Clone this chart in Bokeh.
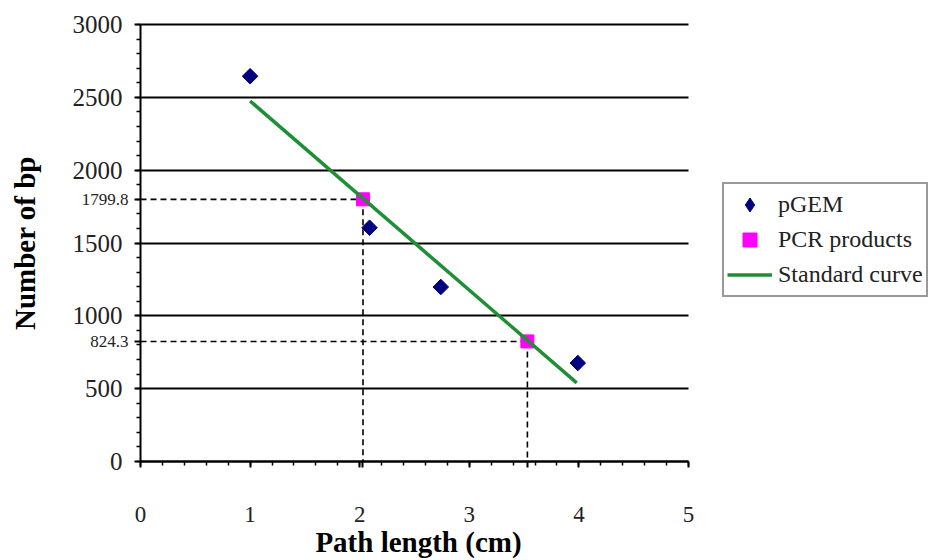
from math import pi
from bokeh.plotting import figure
from bokeh.models import (FixedTicker, Legend, LegendItem, Range1d, LinearAxis, Grid,
                          PrintfTickFormatter, Label)
from bokeh.embed import file_html
from bokeh.resources import INLINE

# ---- data ----
pgem_x = [1.0, 2.09, 2.74, 3.99]
pgem_y = [2645, 1605, 1198, 676]
pcr_x = [2.03, 3.53]
pcr_y = [1799.8, 824.3]
curve_x = [1.0, 3.98]
curve_y = [2475, 540]
x_ticks = [0, 1, 2, 3, 4, 5]
y_ticks = [0, 500, 1000, 1500, 2000, 2500, 3000]
x_minor = [0.2 * i for i in range(26)]
y_minor = list(range(0, 3001, 100))

SERIF = "Liberation Serif"
W, H = 929, 560
# plot area of the reference chart, in pixels
PX_LEFT, PX_RIGHT, PX_TOP, PX_BOTTOM = 140, 688, 24, 461
X0, X1, Y0, Y1 = 0, 5, 0, 3000
xs = (PX_RIGHT - PX_LEFT) / (X1 - X0)
ys = (PX_BOTTOM - PX_TOP) / (Y1 - Y0)

# the frame covers the whole canvas so that legend and labels are not clipped;
# the ranges are extended so that the 0..5 / 0..3000 area sits where the reference has it
p = figure(width=W, height=H,
           x_range=Range1d(X0 - PX_LEFT / xs, X1 + (W - PX_RIGHT) / xs),
           y_range=Range1d(Y0 - (H - PX_BOTTOM) / ys, Y1 + PX_TOP / ys),
           x_axis_location=None, y_axis_location=None,
           output_backend="svg", toolbar_location=None,
           min_border_left=0, min_border_right=0, min_border_top=0, min_border_bottom=0)
p.outline_line_color = None
p.background_fill_color = "white"
p.border_fill_color = "white"
p.center = [c for c in p.center if not isinstance(c, Grid)]

# range used only to keep the legend swatch renderer off the canvas
p.extra_y_ranges = {"key_only": Range1d(-100000, -99999)}

grid = Grid(dimension=1, ticker=FixedTicker(ticks=y_ticks), cross_bounds=(X0, X1),
            grid_line_color="black", grid_line_width=2)
p.add_layout(grid)


def style_axis(ax):
    ax.axis_line_color = "black"
    ax.axis_line_width = 2
    ax.major_tick_line_color = "black"
    ax.major_tick_line_width = 2
    ax.minor_tick_line_color = "black"
    ax.minor_tick_line_width = 1.5
    ax.major_tick_in = 0
    ax.major_tick_out = 6
    ax.minor_tick_in = 0
    ax.minor_tick_out = 4
    ax.major_label_text_font = SERIF
    ax.major_label_text_color = "#222222"


xaxis = LinearAxis(ticker=FixedTicker(ticks=x_ticks, minor_ticks=x_minor),
                   fixed_location=Y0, bounds=(X0, X1))
style_axis(xaxis)
xaxis.major_label_text_font_size = "23px"
xaxis.major_label_standoff = 39
p.add_layout(xaxis, "below")

yaxis = LinearAxis(ticker=FixedTicker(ticks=y_ticks, minor_ticks=y_minor),
                   fixed_location=X0, bounds=(Y0, Y1))
style_axis(yaxis)
yaxis.major_label_text_font_size = "25px"
yaxis.major_label_standoff = 12
p.add_layout(yaxis, "left")

# read-off value ticks/labels (1799.8 / 824.3)
read_y = LinearAxis(ticker=FixedTicker(ticks=pcr_y, minor_ticks=[]), fixed_location=X0,
                    formatter=PrintfTickFormatter(format="%.1f"))
style_axis(read_y)
read_y.axis_line_color = None
read_y.minor_tick_line_color = None
read_y.major_label_standoff = 6
read_y.major_label_text_font_size = "17px"
p.add_layout(read_y, "left")

read_x = LinearAxis(ticker=FixedTicker(ticks=pcr_x, minor_ticks=[]), fixed_location=Y0)
style_axis(read_x)
read_x.axis_line_color = None
read_x.minor_tick_line_color = None
read_x.major_label_text_color = None
p.add_layout(read_x, "below")

# axis titles
p.add_layout(Label(x=X0, y=(Y0 + Y1) / 2, x_offset=-116, text="Number of bp", angle=pi / 2,
                   text_align="center", text_baseline="middle", text_font=SERIF,
                   text_font_style="bold", text_font_size="29px", text_color="black"))
p.add_layout(Label(x=(X0 + X1) / 2, y=Y0, x_offset=4, y_offset=-80, text="Path length (cm)",
                   text_align="center", text_baseline="middle", text_font=SERIF,
                   text_font_style="bold", text_font_size="29px", text_color="black"))

# dashed read-off lines
p.segment(x0=[X0] * len(pcr_x), y0=pcr_y, x1=pcr_x, y1=pcr_y,
          line_color="black", line_width=1.6, line_dash="6 4")
p.segment(x0=pcr_x, y0=pcr_y, x1=pcr_x, y1=[Y0] * len(pcr_x),
          line_color="black", line_width=1.6, line_dash="6 4")

r_pcr = p.scatter(pcr_x, pcr_y, marker="square", size=13, fill_color="#ff00ff",
                  line_color="#ff00ff")
r_curve = p.line(curve_x, curve_y, line_color="#1f8f35", line_width=3.5)
p.scatter(pgem_x, pgem_y, marker="square", angle=pi / 4, size=11,
          fill_color="#000080", line_color="#000080")
# legend swatch for pGEM (diamond), kept off the canvas
r_pgem_key = p.scatter(pgem_x, pgem_y, marker="diamond", size=14, y_range_name="key_only",
                       fill_color="#000080", line_color="#000080")

legend = Legend(items=[LegendItem(label="pGEM", renderers=[r_pgem_key]),
                       LegendItem(label="PCR products", renderers=[r_pcr]),
                       LegendItem(label="Standard curve", renderers=[r_curve])],
                location=(722, H - 297))
legend.label_text_font = SERIF
legend.label_text_font_size = "24px"
legend.label_text_color = "#222222"
legend.glyph_width = 45
legend.glyph_height = 35
legend.label_height = 35
legend.label_standoff = 6
legend.padding = 3
legend.spacing = 0
legend.margin = 0
legend.border_line_color = "#333333"
legend.border_line_width = 2
legend.background_fill_color = "white"
legend.background_fill_alpha = 1
p.add_layout(legend)

open("out.html", "w").write(file_html(p, INLINE))
